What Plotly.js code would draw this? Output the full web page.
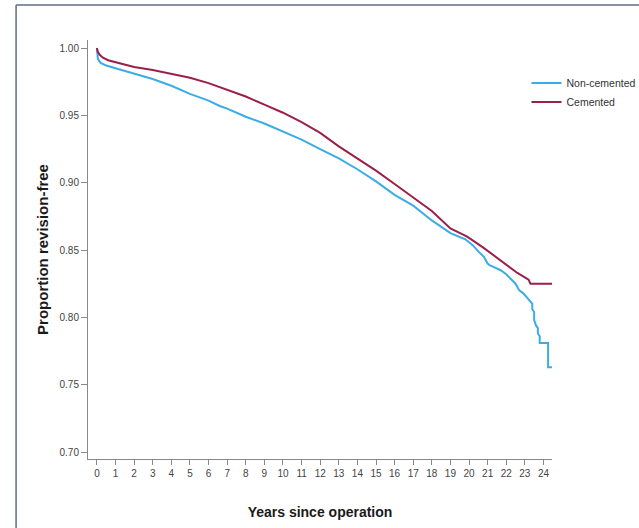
<!DOCTYPE html>
<html>
<head>
<meta charset="utf-8">
<script src="https://cdn.plot.ly/plotly-3.0.1.min.js"></script>
<style>
  html, body { margin: 0; padding: 0; background: #fff; }
  #chart { width: 639px; height: 528px; }
</style>
</head>
<body>
<div id="chart"></div>
<script>
// Kaplan-Meier estimates
const nonCementedYears = [0, 0.05, 0.2, 0.5, 1, 2, 3, 4, 5, 6, 6.6, 7, 8, 9, 10, 11, 12, 13, 14, 15, 16, 17, 18, 19, 19.8, 20.2, 20.5, 20.8, 21.0, 21.1, 21.4, 21.7, 22.0, 22.2, 22.5, 22.7, 22.9, 23.1, 23.3, 23.4, 23.4, 23.5, 23.5, 23.6, 23.7, 23.7, 23.8, 23.8, 24.25, 24.25, 24.46];
const nonCementedSurv  = [1.000, 0.992, 0.989, 0.987, 0.985, 0.981, 0.977, 0.972, 0.966, 0.961, 0.957, 0.955, 0.949, 0.944, 0.938, 0.932, 0.925, 0.918, 0.910, 0.901, 0.891, 0.883, 0.872, 0.8626, 0.858, 0.8536, 0.849, 0.845, 0.840, 0.8388, 0.837, 0.835, 0.832, 0.829, 0.825, 0.820, 0.818, 0.815, 0.812, 0.810, 0.806, 0.804, 0.798, 0.794, 0.792, 0.788, 0.786, 0.781, 0.781, 0.763, 0.763];

const cementedYears = [0, 0.05, 0.15, 0.3, 0.6, 1, 2, 3, 4, 5, 6, 7, 8, 9, 10, 11, 12, 13, 14, 15, 16, 17, 18, 19, 19.9, 20.75, 21.7, 22.6, 23.2, 23.3, 24.46];
const cementedSurv  = [1.000, 0.997, 0.995, 0.993, 0.991, 0.9896, 0.986, 0.9837, 0.981, 0.978, 0.974, 0.969, 0.964, 0.958, 0.952, 0.945, 0.937, 0.927, 0.918, 0.909, 0.899, 0.889, 0.879, 0.866, 0.860, 0.852, 0.842, 0.833, 0.828, 0.825, 0.825];

const seriesNames = ["Non-cemented", "Cemented"];
const xTickVals = [0,1,2,3,4,5,6,7,8,9,10,11,12,13,14,15,16,17,18,19,20,21,22,23,24];
const yTickVals = [0.70, 0.75, 0.80, 0.85, 0.90, 0.95, 1.00];
const yTickText = ["0.70", "0.75", "0.80", "0.85", "0.90", "0.95", "1.00"];

const narrow = '"Liberation Sans Narrow", "Arial Narrow", "Liberation Sans", Arial, sans-serif';
const bold = '"Liberation Sans", Arial, sans-serif';

const traces = [
  {
    x: nonCementedYears, y: nonCementedSurv, name: seriesNames[0],
    type: 'scatter', mode: 'lines',
    line: { color: '#3aace6', width: 2 }
  },
  {
    x: cementedYears, y: cementedSurv, name: seriesNames[1],
    type: 'scatter', mode: 'lines',
    line: { color: '#9a1f4b', width: 2 }
  }
];

const layout = {
  width: 639, height: 528,
  margin: { l: 88, r: 87, t: 40, b: 69, autoexpand: false },
  paper_bgcolor: '#ffffff',
  plot_bgcolor: '#ffffff',
  showlegend: true,
  legend: {
    x: 0.945, y: 0.932, xanchor: 'left', yanchor: 'top',
    font: { family: narrow, size: 10.5, color: '#333' },
    itemwidth: 30, tracegroupgap: 0,
    bgcolor: 'rgba(0,0,0,0)'
  },
  xaxis: {
    range: [-0.48, 24.46],
    tickvals: xTickVals,
    ticktext: xTickVals.map(String),
    ticks: 'outside', ticklen: 5, tickcolor: '#8a8a8a', tickwidth: 1,
    showline: true, linecolor: '#8a8a8a', linewidth: 1,
    showgrid: false, zeroline: false,
    tickfont: { family: narrow, size: 10, color: '#444' },
    title: { text: 'Years since operation', font: { family: bold, size: 14, color: '#1a1a1a', weight: 'bold' }, standoff: 29 },
    automargin: false
  },
  yaxis: {
    range: [0.6948, 1.006],
    tickvals: yTickVals,
    ticktext: yTickText,
    ticks: 'outside', ticklen: 6, tickcolor: '#8a8a8a', tickwidth: 1,
    showline: true, linecolor: '#8a8a8a', linewidth: 1,
    showgrid: false, zeroline: false,
    tickfont: { family: narrow, size: 10, color: '#444' },
    title: { text: 'Proportion revision-free', font: { family: bold, size: 15, color: '#1a1a1a', weight: 'bold' }, standoff: 7 },
    automargin: false
  },
  shapes: [
    { type: 'line', xref: 'paper', yref: 'paper', x0: -0.155, x1: -0.155, y0: -0.2, y1: 1.0835, line: { color: '#5f6e84', width: 1.5 } },
    { type: 'line', xref: 'paper', yref: 'paper', x0: -0.155, x1: 1.25, y0: 1.0835, y1: 1.0835, line: { color: '#5f6e84', width: 1.5 } }
  ]
};

Plotly.newPlot('chart', traces, layout, { displayModeBar: false, staticPlot: true });
</script>
</body>
</html>
